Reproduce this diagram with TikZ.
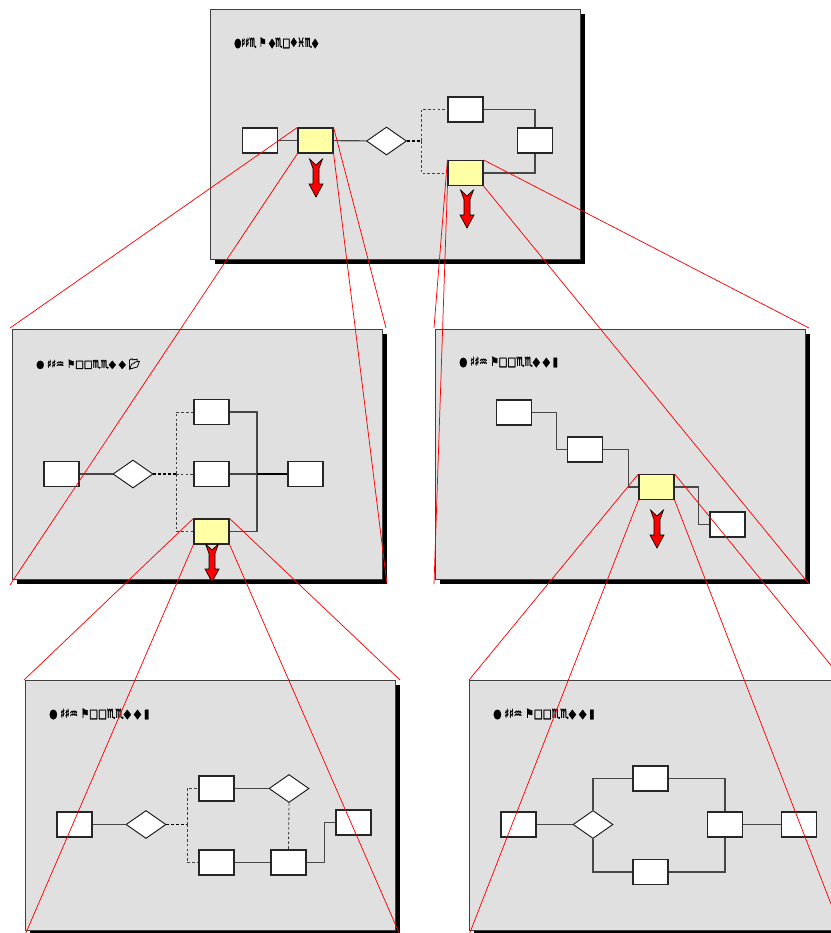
\documentclass[tikz,border=0pt]{standalone}
\usepackage{fontspec}
\usepackage{graphicx}
\usetikzlibrary{shapes.geometric,shadows,calc}
\newfontfamily\symf[FakeBold=2.5]{DejaVu Sans}
\newfontfamily\emo[FakeBold=2]{Noto Emoji}
\definecolor{panelgray}{RGB}{224,224,224}
\definecolor{ylw}{RGB}{255,255,166}
\tikzset{
  panel/.style={draw=black!75, fill=panelgray, line width=0.6pt,
    minimum width=277.5pt, minimum height=187.5pt, inner sep=0,
    drop shadow={shadow xshift=3.75pt, shadow yshift=-3.75pt, opacity=1, fill=black}},
  wbox/.style={draw=black!85, fill=white, line width=0.85pt,
    minimum width=26.25pt, minimum height=18.75pt, inner sep=0},
  ybox/.style={wbox, fill=ylw},
  dia/.style={shape=diamond, draw=black!90, fill=white, line width=0.7pt,
    minimum width=30pt, minimum height=21pt, inner sep=0},
  conn/.style={draw=black!72, line width=0.85pt},
  bconn/.style={draw=black, line width=1.1pt},
  dconn/.style={draw=black!75, line width=0.65pt, dash pattern=on 2pt off 1.6pt},
  tdconn/.style={draw=black, line width=1.1pt, dash pattern=on 2.2pt off 1.4pt},
  zline/.style={draw=red, line width=0.55pt},
  lbl/.style={anchor=west, inner sep=0},
  zoomarrow/.pic={
    \path[fill=red, draw=black, line width=0.5pt]
      (-6.5,0) -- (0,6) -- (6.5,0) -- (3,9.5) -- (3,25) -- (7,25) -- (0,38)
      -- (-7,25) -- (-3,25) -- (-3,9.5) -- cycle;
  }
}
\begin{document}
\begin{tikzpicture}[x=0.75pt,y=-0.75pt]
\useasboundingbox (0,0) rectangle (831,933);
\clip (0,0) rectangle (831,933);
\fill[white] (0,0) rectangle (831,933);

% ---------- panels ----------
\node[panel] (pTop) at (395,134) {};
\node[panel] (pML) at (197,454) {};
\node[panel] (pMR) at (620,454) {};
\node[panel] (pBL) at (210,805) {};
\node[panel] (pBR) at (654,805) {};

% ---------- labels ----------
\node[lbl] (lTop) at (234,43) {\resizebox{63pt}{6.8pt}{\symf ●♯♯♏ ⚑ ◆♏□❖♓♏◆}};
\node[lbl] (lML) at (36,364) {\resizebox{78pt}{6.8pt}{\symf ● ♯♯♒ ⚑□□♏♏◆ ◆ {\emo 📂}}};
\node[lbl] (lMR) at (459,362) {\resizebox{74pt}{6.8pt}{\symf ● ♯♯♒ ⚑□□♏♏◆ ◆ ▮}};
\node[lbl] (lBL) at (49,714) {\resizebox{75pt}{6.8pt}{\symf ● ♯♯♒ ⚑□□♏♏◆ ◆ ▮}};
\node[lbl] (lBR) at (493,714) {\resizebox{76pt}{6.8pt}{\symf ● ♯♯♒ ⚑□□♏♏◆ ◆ ▮}};

% ---------- top panel ----------
\node[wbox] (tA) at (260,140.5) {};
\node[ybox] (tY1) at (315.5,140.5) {};
\node[dia] (tD) at (386.5,141) {};
\node[wbox] (tC) at (465.5,109.5) {};
\node[wbox] (tE) at (535,140.5) {};
\node[ybox] (tY2) at (465.5,173) {};
\coordinate (tJ) at (421,141);
\draw[conn] (tA) -- (tY1);
\draw[conn] (tY1) -- (tD);
\draw[tdconn] (tD.east) -- (tJ);
\draw[dconn] (tJ) |- (tC.west);
\draw[dconn] (tJ) |- (tY2.west);
\draw[conn] (tC.east) -| (tE.north);
\draw[conn] (tE.south) |- (tY2.east);
\pic at (316,159) {zoomarrow};
\pic at (467,190) {zoomarrow};

% ---------- middle-left panel ----------
\node[wbox] (lA) at (61.5,474) {};
\node[dia] (lD) at (133,474) {};
\node[wbox] (lB1) at (211.5,412) {};
\node[wbox] (lB2) at (211.5,474) {};
\node[ybox] (lY) at (211.5,531.5) {};
\node[wbox] (lR) at (305.5,474) {};
\coordinate (lJ) at (176,474);
\coordinate (lK) at (257,474);
\draw[conn] (lA) -- (lD);
\draw[tdconn] (lD.east) -- (lJ);
\draw[dconn] (lJ) |- (lB1.west);
\draw[dconn] (lJ) -- (lB2.west);
\draw[dconn] (lJ) |- (lY.west);
\draw[conn] (lB1.east) -| (lK) |- (lY.east);
\draw[conn] (lB2.east) -- (lK);
\draw[bconn] (lK) -- (lR.west);
\pic at (212,544) {zoomarrow};

% ---------- middle-right panel ----------
\node[wbox] (rB1) at (514,412.5) {};
\node[wbox] (rB2) at (585,449.5) {};
\node[ybox] (rY) at (656.5,487) {};
\node[wbox] (rB4) at (727.5,524.5) {};
\draw[conn] (rB1.east) -- ++(24,0) |- (rB2.west);
\draw[conn] (rB2.east) -- ++(25,0) |- (rY.west);
\draw[conn] (rY.east) -- ++(24,0) |- (rB4.west);
\pic at (657,510) {zoomarrow};

% ---------- bottom-left panel ----------
\node[wbox] (bA) at (74.5,824.5) {};
\node[dia] (bD1) at (146,824.5) {};
\node[wbox] (bB1) at (216.5,788.5) {};
\node[dia] (bD2) at (289,788.5) {};
\node[wbox] (bB2) at (216.5,862.5) {};
\node[wbox] (bB3) at (288.5,862.5) {};
\node[wbox] (bB4) at (353.5,822.5) {};
\coordinate (bJ) at (187,824.5);
\draw[conn] (bA) -- (bD1);
\draw[tdconn] (bD1.east) -- (bJ);
\draw[dconn] (bJ) |- (bB1.west);
\draw[dconn] (bJ) |- (bB2.west);
\draw[conn] (bB1) -- (bD2);
\draw[dconn] (bD2.south) -- (bB3.north);
\draw[conn] (bB2) -- (bB3);
\draw[conn] (bB3.east) -- ++(18,0) |- (bB4.west);

% ---------- bottom-right panel ----------
\node[wbox] (cA) at (518.5,824.5) {};
\node[dia] (cD) at (593,824.5) {};
\node[wbox] (cT) at (650.5,778.5) {};
\node[wbox] (cB) at (650.5,872) {};
\node[wbox] (cR) at (725,824.5) {};
\node[wbox] (cF) at (799,824.5) {};
\draw[conn] (cA) -- (cD);
\draw[conn] (cD.north) |- (cT.west);
\draw[conn] (cT.east) -| (cR.north);
\draw[conn] (cD.south) |- (cB.west);
\draw[conn] (cB.east) -| (cR.south);
\draw[conn] (cR) -- (cF);

% ---------- zoom lines ----------
\coordinate (mlNW) at (10,328);
\coordinate (mlNE) at (386,328);
\coordinate (mlSW) at (10,585);
\coordinate (mlSE) at (387,584);
\coordinate (mrNW) at (434,328);
\coordinate (mrNE) at (809,328);
\coordinate (mrSW) at (434,584);
\coordinate (mrSE) at (809,584);
\coordinate (blNW) at (24,680);
\coordinate (blNE) at (400,680);
\coordinate (blSW) at (25,935);
\coordinate (blSE) at (400,935);
\coordinate (brNW) at (469,680);
\coordinate (brNE) at (843,680);
\coordinate (brSW) at (469,935);
\coordinate (brSE) at (843,935);

\draw[zline] (tY1.north west) -- (mlNW);
\draw[zline] (tY1.south west) -- (mlSW);
\draw[zline] (tY1.north east) -- (mlNE);
\draw[zline] (tY1.south east) -- (mlSE);
\draw[zline] (tY2.north west) -- (mrNW);
\draw[zline] (tY2.south west) -- (mrSW);
\draw[zline] (tY2.north east) -- (mrNE);
\draw[zline] (tY2.south east) -- (mrSE);
\draw[zline] (lY.north west) -- (blNW);
\draw[zline] (lY.south west) -- (blSW);
\draw[zline] (lY.north east) -- (blNE);
\draw[zline] (lY.south east) -- (blSE);
\draw[zline] (rY.north west) -- (brNW);
\draw[zline] (rY.south west) -- (brSW);
\draw[zline] (rY.north east) -- (brNE);
\draw[zline] (rY.south east) -- (brSE);
\end{tikzpicture}
\end{document}
